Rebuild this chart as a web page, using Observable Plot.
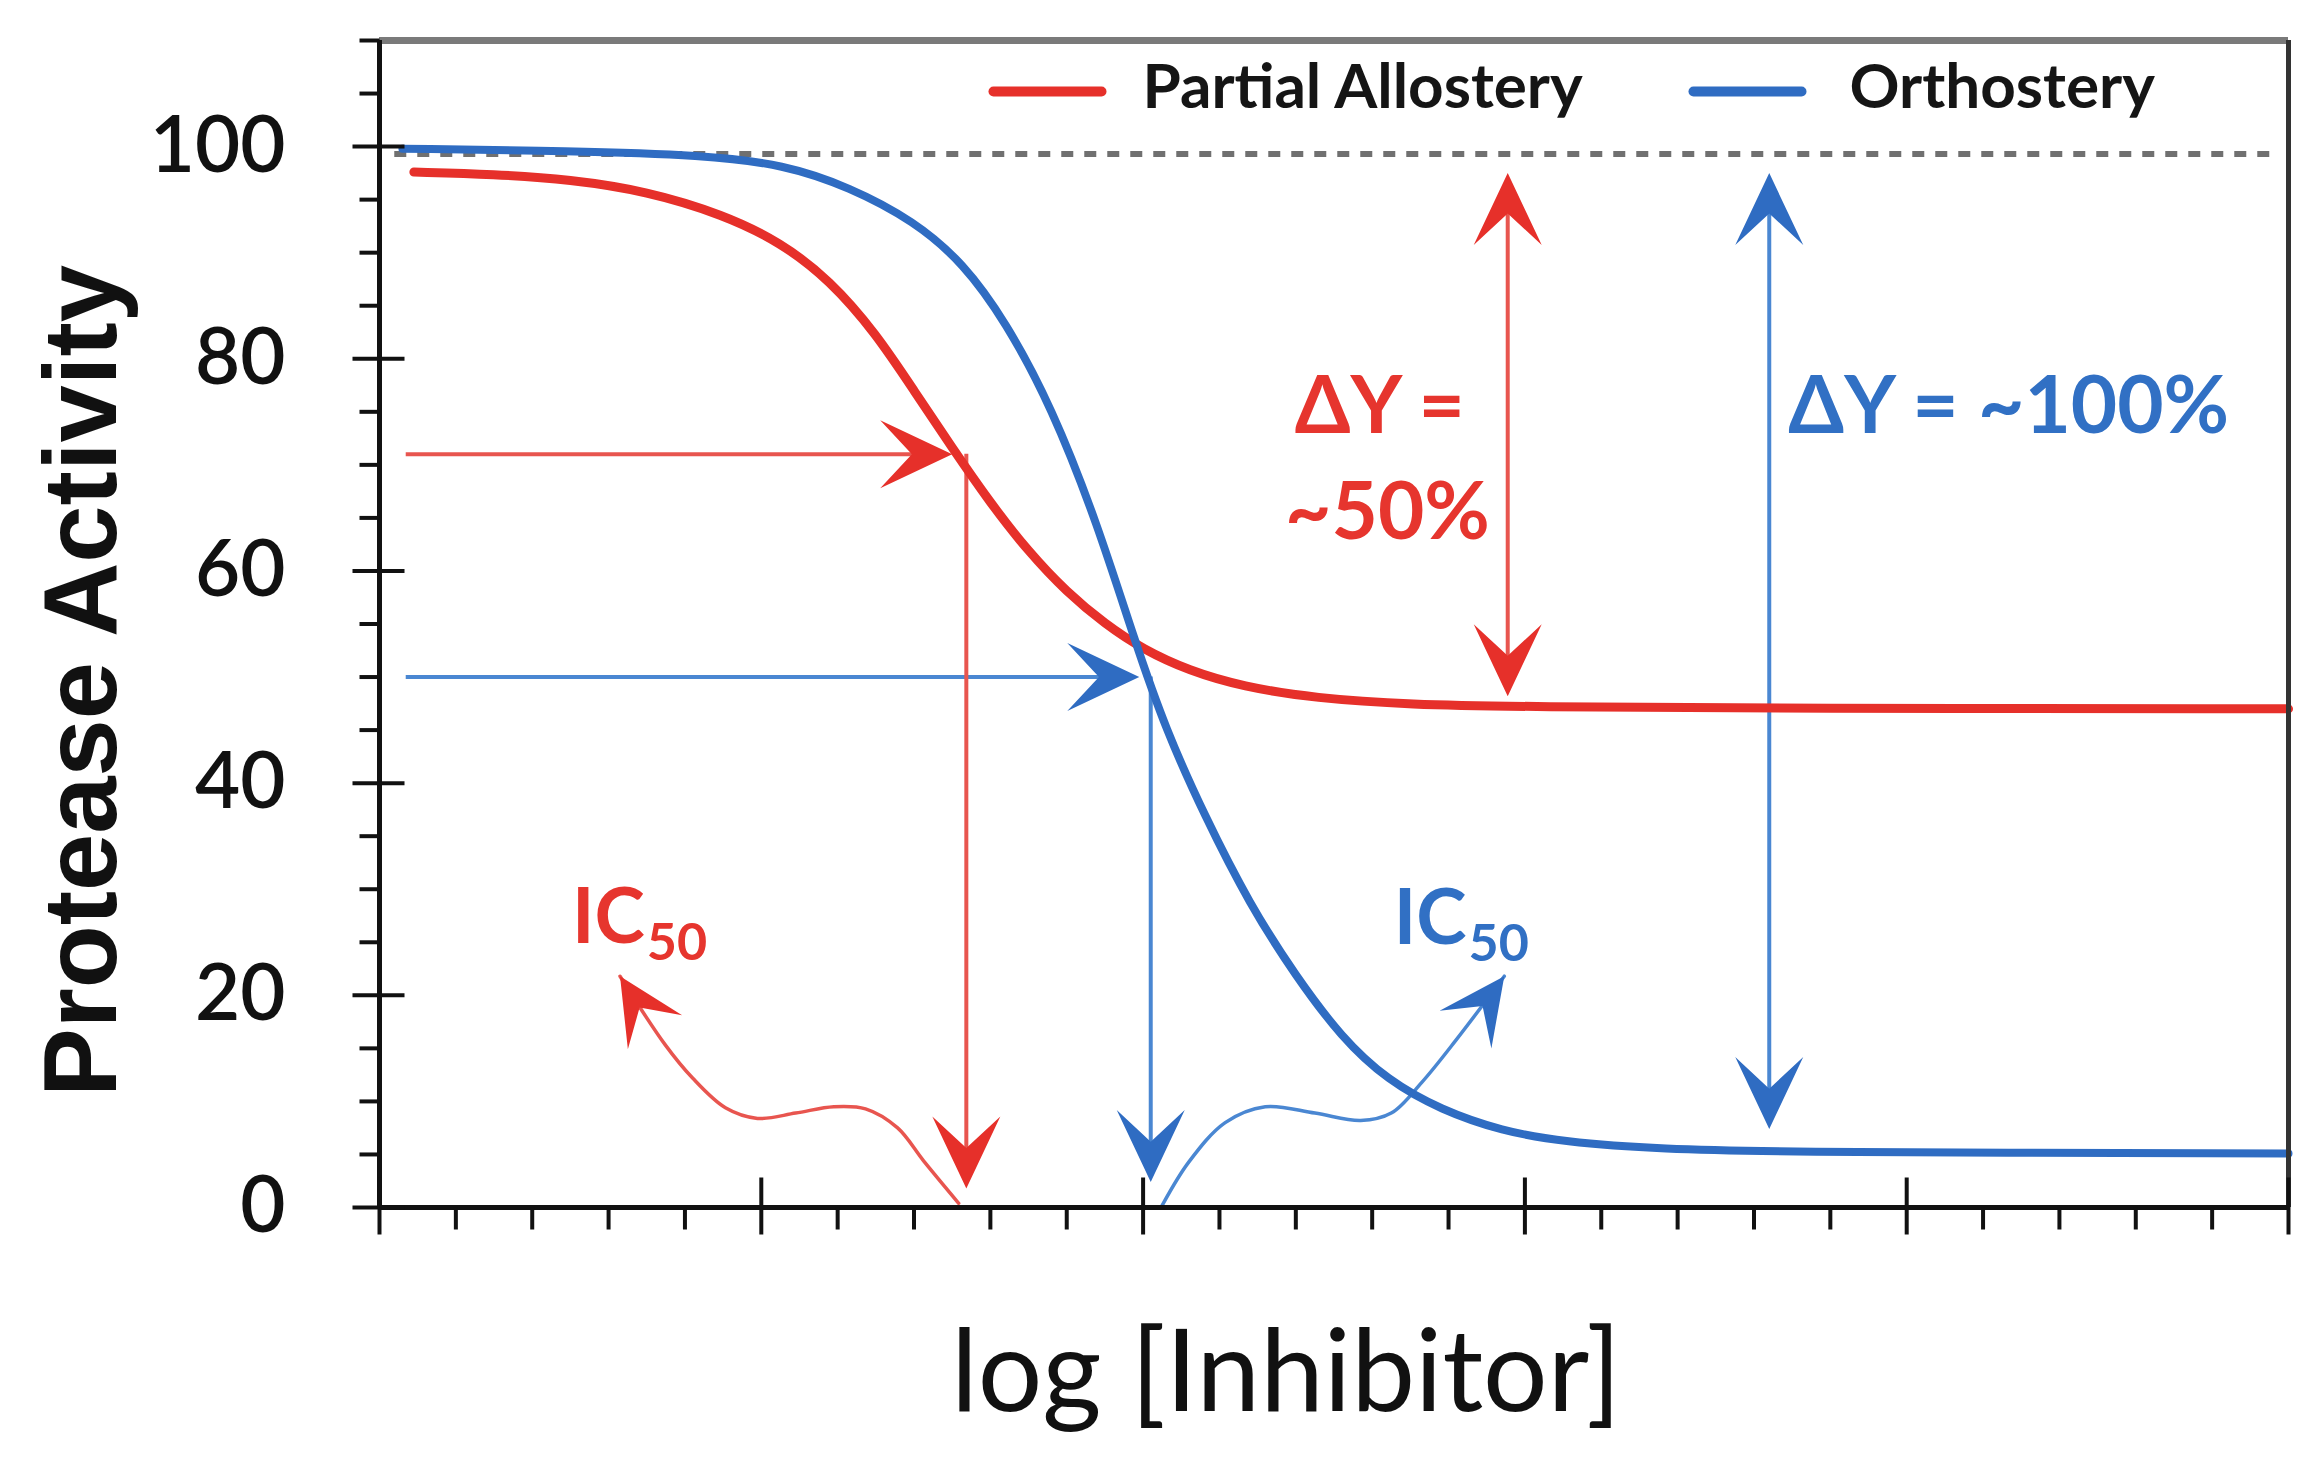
<!DOCTYPE html>
<html>
<head>
<meta charset="utf-8">
<script src="https://cdn.jsdelivr.net/npm/d3@7"></script>
<script src="https://cdn.jsdelivr.net/npm/@observablehq/plot@0.6"></script>
<style>
  html, body { margin: 0; padding: 0; background: #ffffff; }
  #chart svg { display: block; }
</style>
</head>
<body>
<div id="chart"></div>
<script>
// ---------- data (x = log[Inhibitor] units 0..5, y = % activity) ----------
const partialAllostery = [
  [0.09, 97.6], [0.30, 97.4], [0.50, 96.9], [0.70, 95.8], [0.90, 93.6], [1.05, 91.0],
  [1.18, 87.4], [1.30, 82.4], [1.40, 77.0], [1.50, 71.6], [1.60, 66.4], [1.70, 61.8],
  [1.80, 58.0], [1.90, 55.0], [2.00, 52.6], [2.12, 50.6], [2.26, 49.1], [2.45, 48.0],
  [2.70, 47.4], [3.00, 47.2], [3.70, 47.05], [5.00, 47.0]
];
const orthostery = [
  [0.06, 99.8], [0.50, 99.6], [0.85, 99.2], [1.06, 98.3], [1.23, 96.2], [1.40, 93.0],
  [1.53, 89.0], [1.64, 83.5], [1.76, 75.5], [1.88, 64.5], [1.98, 53.2], [2.06, 45.0],
  [2.16, 37.0], [2.28, 28.5], [2.40, 21.8], [2.52, 16.0], [2.64, 12.0], [2.78, 9.2],
  [2.94, 7.2], [3.10, 6.2], [3.35, 5.5], [3.72, 5.2], [5.00, 5.1]
];
const seriesNames = ["Partial Allostery", "Orthostery"];
const fullActivity = 99.3;                       // dotted 100 % reference line
const icHorizontal = [                           // horizontal IC50 arrows
  {series: "Partial Allostery", x1: 0.07, x2: 1.50, y: 71.0},
  {series: "Orthostery",        x1: 0.07, x2: 1.99, y: 50.0}
];
const icVertical = [                             // vertical IC50 arrows
  {series: "Partial Allostery", x: 1.537, y1: 71.0, y2: 1.8},
  {series: "Orthostery",        x: 2.02,  y1: 50.0, y2: 2.4}
];
const deltaArrows = [                            // ΔY double arrows
  {series: "Partial Allostery", x: 2.955, y1: 97.5, y2: 48.2},
  {series: "Orthostery",        x: 3.64,  y1: 97.5, y2: 7.4}
];
const curlyRed = [
  [1.517, 0.4], [1.425, 4.4], [1.357, 7.5], [1.273, 9.3], [1.19, 9.5], [1.09, 8.9],
  [0.99, 8.4], [0.906, 9.4], [0.82, 12.2], [0.747, 15.4], [0.63, 21.8]
];
const curlyBlue = [
  [2.05, 0.2], [2.12, 4.3], [2.215, 8.0], [2.32, 9.5], [2.45, 8.9], [2.57, 8.2],
  [2.65, 8.9], [2.73, 11.8], [2.82, 15.8], [2.946, 21.8]
];
const deltaLabelsRed = [
  {x: 2.62, y: 73.0, text: "ΔY ="},
  {x: 2.64, y: 63.0, text: "~50%"}
];
const deltaLabelsBlue = [
  {x: 3.69, y: 73.0, text: "ΔY = ~100%"}
];
const icLabels = [
  {series: "Partial Allostery", x: 0.695, y: 24.9},
  {series: "Orthostery",        x: 2.847, y: 24.8}
];
const yMajorTicks = [0, 20, 40, 60, 80, 100];
const yMinorTicks = [5, 10, 15, 25, 30, 35, 45, 50, 55, 65, 70, 75, 85, 90, 95, 105, 110];
const xMajorTicks = [0, 1, 2, 3, 4, 5];
const xMinorTicks = [0.2, 0.4, 0.6, 0.8, 1.2, 1.4, 1.6, 1.8, 2.2, 2.4, 2.6, 2.8,
                     3.2, 3.4, 3.6, 3.8, 4.2, 4.4, 4.6, 4.8];
const xLabel = "log [Inhibitor]";
const yLabel = "Protease Activity";

// ---------- styles ----------
const RED = "#e6302a", RED_LINE = "#e8554f", RED_TEXT = "#e6352e";
const BLUE = "#2f6cc2", BLUE_LINE = "#4a87d2", BLUE_TEXT = "#3170c4";
const colorOf = s => s === "Partial Allostery" ? RED : BLUE;
const lineColorOf = s => s === "Partial Allostery" ? RED_LINE : BLUE_LINE;
const textColorOf = s => s === "Partial Allostery" ? RED_TEXT : BLUE_TEXT;
const FONT = "Lato, 'Open Sans', sans-serif";
const ARIAL = "'Liberation Sans', Arial, sans-serif";

// custom symbols (pixel geometry only)
function seg(x1, y1, x2, y2) {
  return {draw(ctx) { ctx.moveTo(x1, y1); ctx.lineTo(x2, y2); }};
}
function stealth(angleDeg, L = 72, W = 68, notch = 0.56) {
  const a = angleDeg * Math.PI / 180, c = Math.cos(a), s = Math.sin(a);
  const pts = [[0, 0], [-L, -W / 2], [-L * notch, 0], [-L, W / 2]];
  return {draw(ctx) {
    pts.forEach(([u, v], i) => {
      const X = u * c - v * s, Y = u * s + v * c;
      if (i) ctx.lineTo(X, Y); else ctx.moveTo(X, Y);
    });
    ctx.closePath();
  }};
}

const marks = [];

// dotted 100% line
marks.push(Plot.ruleY([fullActivity], {x1: 0.04, x2: 4.96, stroke: "#707070", strokeWidth: 6, strokeDasharray: "12,11"}));

// arrow shafts
marks.push(Plot.ruleY(icHorizontal, {y: "y", x1: "x1", x2: "x2", stroke: d => lineColorOf(d.series), strokeWidth: 4, insetRight: 30}));
marks.push(Plot.ruleX(icVertical, {x: "x", y1: "y1", y2: "y2", stroke: d => lineColorOf(d.series), strokeWidth: 4, insetBottom: 30}));
marks.push(Plot.ruleX(deltaArrows, {x: "x", y1: "y1", y2: "y2", stroke: d => lineColorOf(d.series), strokeWidth: 4, insetTop: 30, insetBottom: 30}));
marks.push(Plot.line(curlyRed, {x: d => d[0], y: d => d[1], stroke: RED_LINE, strokeWidth: 3.5, curve: "catmull-rom"}));
marks.push(Plot.line(curlyBlue, {x: d => d[0], y: d => d[1], stroke: BLUE_LINE, strokeWidth: 3.5, curve: "catmull-rom"}));

// curves
marks.push(Plot.line(partialAllostery, {x: d => d[0], y: d => d[1], stroke: RED, strokeWidth: 9, curve: "basis"}));
marks.push(Plot.line(orthostery, {x: d => d[0], y: d => d[1], stroke: BLUE, strokeWidth: 8, curve: "basis"}));

// arrowheads
for (const s of seriesNames) {
  const h = icHorizontal.filter(d => d.series === s);
  const v = icVertical.filter(d => d.series === s);
  const dl = deltaArrows.filter(d => d.series === s);
  const col = colorOf(s);
  marks.push(Plot.dot(h, {x: "x2", y: "y", symbol: stealth(0), fill: col, stroke: "none"}));
  marks.push(Plot.dot(v, {x: "x", y: "y2", symbol: stealth(90), fill: col, stroke: "none"}));
  marks.push(Plot.dot(dl, {x: "x", y: "y1", symbol: stealth(-90), fill: col, stroke: "none"}));
  marks.push(Plot.dot(dl, {x: "x", y: "y2", symbol: stealth(90), fill: col, stroke: "none"}));
}
marks.push(Plot.dot([curlyRed[curlyRed.length - 1]], {x: d => d[0], y: d => d[1], symbol: stealth(-122, 66, 64), fill: RED, stroke: "none"}));
marks.push(Plot.dot([curlyBlue[curlyBlue.length - 1]], {x: d => d[0], y: d => d[1], symbol: stealth(-54, 66, 64), fill: BLUE, stroke: "none"}));

// annotation texts
marks.push(Plot.text(deltaLabelsRed, {x: "x", y: "y", text: "text", textAnchor: "middle", lineAnchor: "bottom",
  fill: RED_TEXT, fontSize: 80, fontWeight: "bold", fontFamily: FONT}));
marks.push(Plot.text(deltaLabelsBlue, {x: "x", y: "y", text: "text", textAnchor: "start", lineAnchor: "bottom",
  fill: BLUE_TEXT, fontSize: 80, fontWeight: "bold", fontFamily: FONT}));
marks.push(Plot.text(icLabels, {x: "x", y: "y", text: () => "IC", textAnchor: "end", lineAnchor: "bottom",
  fill: d => textColorOf(d.series), fontSize: 76, fontWeight: "bold", fontFamily: FONT}));
marks.push(Plot.text(icLabels, {x: "x", y: "y", text: () => "50", textAnchor: "start", lineAnchor: "bottom", dx: 2, dy: 17,
  fill: d => textColorOf(d.series), fontSize: 52, fontWeight: "bold", fontFamily: FONT}));

// legend
marks.push(Plot.dot([seriesNames[0]], {frameAnchor: "top-left", dx: 668, dy: 51, symbol: seg(-54, 0, 54, 0), stroke: RED, strokeWidth: 10, strokeLinecap: "round", fill: "none"}));
marks.push(Plot.dot([seriesNames[1]], {frameAnchor: "top-left", dx: 1368, dy: 51, symbol: seg(-54, 0, 54, 0), stroke: BLUE, strokeWidth: 10, strokeLinecap: "round", fill: "none"}));
marks.push(Plot.text([seriesNames[0]], {frameAnchor: "top-left", dx: 763, dy: 67, text: d => d, textAnchor: "start", lineAnchor: "bottom", fontSize: 62, fontWeight: "bold", fontFamily: FONT, fill: "#151515"}));
marks.push(Plot.text([seriesNames[1]], {frameAnchor: "top-left", dx: 1470, dy: 67, text: d => d, textAnchor: "start", lineAnchor: "bottom", fontSize: 62, fontWeight: "bold", fontFamily: FONT, fill: "#151515"}));

// frame & axes
marks.push(Plot.ruleY([110], {x1: 0, x2: 5, stroke: "#7a7a7a", strokeWidth: 7}));
marks.push(Plot.ruleX([5], {y1: 0, y2: 110, stroke: "#333333", strokeWidth: 5}));
marks.push(Plot.ruleX([0], {y1: 0, y2: 110, stroke: "#111111", strokeWidth: 5}));
marks.push(Plot.ruleY([0], {x1: 0, x2: 5, stroke: "#111111", strokeWidth: 5}));
marks.push(Plot.dot(yMajorTicks, {x: () => 0, y: d => d, symbol: seg(-27, 0, 25, 0), stroke: "#111", strokeWidth: 4, fill: "none"}));
marks.push(Plot.dot(yMinorTicks, {x: () => 0, y: d => d, symbol: seg(-20, 0, 0, 0), stroke: "#111", strokeWidth: 4, fill: "none"}));
marks.push(Plot.dot(xMajorTicks, {x: d => d, y: () => 0, symbol: seg(0, -30, 0, 27), stroke: "#111", strokeWidth: 4, fill: "none"}));
marks.push(Plot.dot(xMinorTicks, {x: d => d, y: () => 0, symbol: seg(0, 0, 0, 22), stroke: "#111", strokeWidth: 4, fill: "none"}));
marks.push(Plot.text(yMajorTicks, {x: () => 0, y: d => d, text: d => String(d), textAnchor: "end", dx: -94,
  fontSize: 78, fontWeight: 600, fontFamily: FONT, fill: "#111"}));

// axis titles
marks.push(Plot.text([yLabel], {frameAnchor: "left", dx: -264, dy: 57, rotate: -90, text: d => d, textAnchor: "middle", lineAnchor: "bottom",
  fontSize: 103, fontWeight: "bold", fontFamily: ARIAL, fill: "#111"}));
marks.push(Plot.text([xLabel], {frameAnchor: "bottom", dx: -48, dy: 203, text: d => d, textAnchor: "middle", lineAnchor: "bottom",
  fontSize: 114, fontFamily: FONT, fill: "#111"}));

const chart = Plot.plot({
  width: 2320,
  height: 1458,
  marginLeft: 379,
  marginRight: 32,
  marginTop: 40,
  marginBottom: 251,
  x: {domain: [0, 5], axis: null},
  y: {domain: [0, 110], axis: null},
  style: {background: "#ffffff", overflow: "visible"},
  marks
});
document.getElementById("chart").appendChild(chart);
</script>
</body>
</html>
